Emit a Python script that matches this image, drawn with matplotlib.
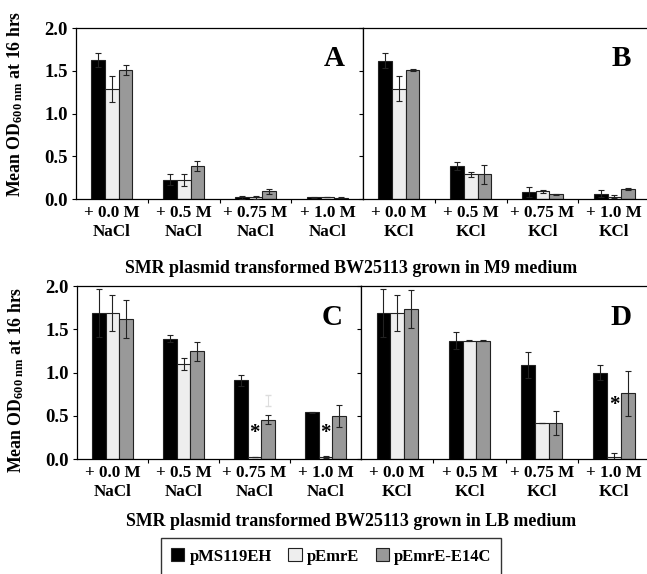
import matplotlib
matplotlib.use("Agg")
import matplotlib.pyplot as plt
import numpy as np
from matplotlib.patches import Patch

plt.rcParams['font.family'] = 'Liberation Serif'
plt.rcParams['font.weight'] = 'bold'
plt.rcParams['axes.labelweight'] = 'bold'
plt.rcParams['mathtext.fontset'] = 'custom'
plt.rcParams['mathtext.rm'] = 'Liberation Serif:bold'
plt.rcParams['mathtext.bf'] = 'Liberation Serif:bold'
plt.rcParams['mathtext.it'] = 'Liberation Serif:bold'

# data
conc = ["+ 0.0 M", "+ 0.5 M", "+ 0.75 M", "+ 1.0 M"]
strains = ["pMS119EH", "pEmrE", "pEmrE-E14C"]

# M9 medium, NaCl (A)
a_mean = [[1.63, 0.23, 0.02, 0.02],
          [1.29, 0.22, 0.02, 0.025],
          [1.51, 0.39, 0.09, 0.015]]
a_err = [[0.08, 0.07, 0.02, 0.005],
         [0.15, 0.07, 0.02, 0.005],
         [0.06, 0.06, 0.03, 0.005]]
# M9 medium, KCl (B)
b_mean = [[1.62, 0.39, 0.085, 0.065],
          [1.29, 0.29, 0.09, 0.03],
          [1.51, 0.29, 0.055, 0.12]]
b_err = [[0.085, 0.05, 0.06, 0.045],
         [0.145, 0.025, 0.02, 0.015],
         [0.01, 0.11, 0.01, 0.01]]
# LB medium, NaCl (C)
c_mean = [[1.69, 1.39, 0.91, 0.54],
          [1.69, 1.10, 0.02, 0.02],
          [1.62, 1.25, 0.455, 0.50]]
c_err = [[0.28, 0.04, 0.065, 0.01],
         [0.21, 0.07, 0.0, 0.01],
         [0.22, 0.11, 0.05, 0.13]]
# LB medium, KCl (D)
d_mean = [[1.69, 1.37, 1.09, 1.00],
          [1.69, 1.37, 0.42, 0.027],
          [1.74, 1.37, 0.42, 0.76]]
d_err = [[0.28, 0.10, 0.15, 0.09],
         [0.21, 0.005, 0.0, 0.04],
         [0.22, 0.005, 0.14, 0.26]]

stars_c = [(2, 0.30), (3, 0.30)]
stars_d = [(3, 0.62)]

colors = ['#000000', '#eeeeee', '#999999']
width = 0.19


def draw_panel(ax, means, errs, salt, letter, stars, ylabel_y=None):
    x = np.arange(len(conc))
    for i in range(3):
        ax.bar(x + (i - 1) * width, means[i], width, color=colors[i],
               edgecolor='#222222', linewidth=0.8, zorder=2)
        ax.errorbar(x + (i - 1) * width, means[i], yerr=errs[i], fmt='none',
                    ecolor='#222222', elinewidth=0.8, capsize=2.5, capthick=0.8, zorder=3)
    for sx, sy in stars:
        ax.text(sx, sy, '*', ha='center', va='center', fontsize=15)
    ax.set_xlim(-0.5, 3.5)
    ax.set_ylim(0, 2.0)
    ax.set_yticks([0, 0.5, 1.0, 1.5, 2.0])
    if ylabel_y is not None:
        ax.set_yticklabels(['%.1f' % v for v in [0, 0.5, 1.0, 1.5, 2.0]], fontsize=13.5)
        ax.set_ylabel('Mean OD$_{600\\ nm}$ at 16 hrs', fontsize=12.8)
        ax.yaxis.set_label_coords(-0.178, ylabel_y)
    else:
        ax.set_yticklabels([])
    ax.set_xticks(x)
    ax.set_xticklabels([c + '\n' + salt for c in conc], fontsize=12.3, linespacing=1.3)
    ax.tick_params(axis='x', length=0, pad=4)
    ax.set_xticks([0.5, 1.5, 2.5], minor=True)
    ax.tick_params(axis='x', which='minor', length=3, width=0.8)
    ax.tick_params(axis='y', length=3, width=0.8, pad=3)
    for s in ax.spines.values():
        s.set_linewidth(0.9)
    ax.text(0.90, 0.82, letter, transform=ax.transAxes, ha='center', va='center', fontsize=21)


fig = plt.figure(figsize=(6.47, 5.74), dpi=100)
axA = fig.add_axes([0.1175, 0.653, 0.444, 0.298])
axB = fig.add_axes([0.561, 0.653, 0.444, 0.298])
axC = fig.add_axes([0.119, 0.2003, 0.439, 0.301])
axD = fig.add_axes([0.558, 0.2003, 0.447, 0.301])

draw_panel(axA, a_mean, a_err, 'NaCl', 'A', [], 0.555)
draw_panel(axB, b_mean, b_err, 'KCl', 'B', [])
draw_panel(axC, c_mean, c_err, 'NaCl', 'C', stars_c, 0.46)
draw_panel(axD, d_mean, d_err, 'KCl', 'D', stars_d)

# faint stray error bar in panel C
axC.errorbar([2 + width], [0.675], yerr=[0.065], fmt='none', ecolor='#dddddd',
             elinewidth=0.8, capsize=2.5, zorder=3)

fig.text(0.543, 0.533, 'SMR plasmid transformed BW25113 grown in M9 medium',
         ha='center', va='center', fontsize=12.9)
fig.text(0.543, 0.092, 'SMR plasmid transformed BW25113 grown in LB medium',
         ha='center', va='center', fontsize=12.9)

handles = [Patch(facecolor=c, edgecolor='#222222', linewidth=0.8) for c in colors]
leg = fig.legend(handles, strains, loc='upper center', bbox_to_anchor=(0.512, 0.062),
                 ncol=3, fontsize=12, frameon=True, fancybox=False, edgecolor='black',
                 handlelength=0.8, handleheight=0.8, handletextpad=0.3, columnspacing=1.0,
                 borderpad=0.6, borderaxespad=0)
leg.get_frame().set_linewidth(1.0)

fig.savefig('out.png', dpi=100)
